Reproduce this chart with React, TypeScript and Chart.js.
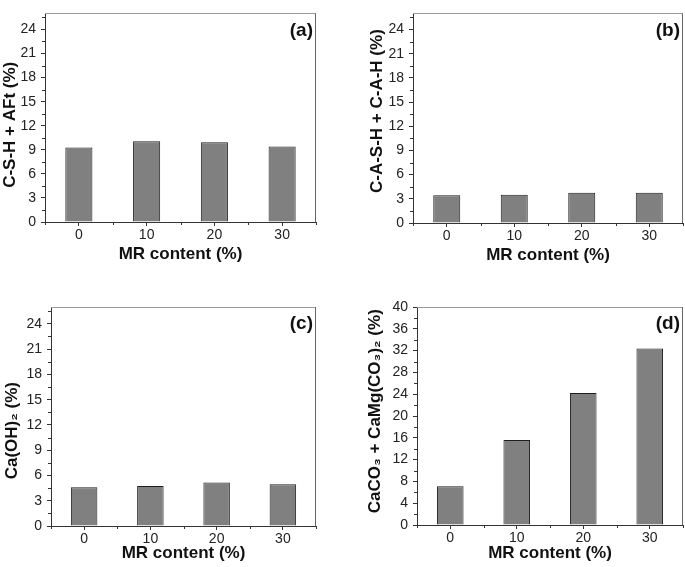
import React, { useEffect, useRef } from 'react';
import { Chart, registerables } from 'chart.js';

Chart.register(...registerables);

// ---------- data ----------
const categories = ['0', '10', '20', '30'];
const cshAft = [9.3, 10.05, 9.95, 9.4];
const cashCah = [3.45, 3.5, 3.75, 3.75];
const caOH2 = [4.6, 4.75, 5.15, 4.95];
const carbonates = [7.1, 15.6, 24.2, 32.4];

const xTitle = 'MR content (%)';
const yTitles = ['C-S-H + AFt (%)   ', '   C-A-S-H + C-A-H (%)', 'Ca(OH)\u2082 (%)      ', '  CaCO\u2083 + CaMg(CO\u2083)\u2082 (%)'];
const panelLabels = ['(a)', '(b)', '(c)', '(d)'];
const yMaxSmall = 26;
const yStepSmall = 3;
const yMaxLarge = 40;
const yStepLarge = 4;

// ---------- layout ----------
type Panel = {
  data: number[];
  yTitle: string;
  label: string;
  yMax: number;
  yStep: number;
  left: number; top: number; w: number; h: number;
  yAxisW: number; xAxisH: number; padTop: number; padRight: number;
  yTitlePad: number; xTitlePad: number;
};

const panels: Panel[] = [
  { data: cshAft, yTitle: yTitles[0], label: panelLabels[0], yMax: yMaxSmall, yStep: yStepSmall,
    left: 0, top: 0, w: 340, h: 270, yAxisW: 45, xAxisH: 48, padTop: 1, padRight: 24, yTitlePad: 0, xTitlePad: 5 },
  { data: cashCah, yTitle: yTitles[1], label: panelLabels[1], yMax: yMaxSmall, yStep: yStepSmall,
    left: 340, top: 0, w: 345, h: 270, yAxisW: 73, xAxisH: 47, padTop: 1, padRight: 2, yTitlePad: 27, xTitlePad: 4 },
  { data: caOH2, yTitle: yTitles[2], label: panelLabels[2], yMax: yMaxSmall, yStep: yStepSmall,
    left: 0, top: 280, w: 340, h: 287, yAxisW: 51, xAxisH: 41, padTop: 27, padRight: 24, yTitlePad: 2, xTitlePad: 3 },
  { data: carbonates, yTitle: yTitles[3], label: panelLabels[3], yMax: yMaxLarge, yStep: yStepLarge,
    left: 340, top: 280, w: 345, h: 287, yAxisW: 77, xAxisH: 42, padTop: 27, padRight: 2, yTitlePad: 25, xTitlePad: 3 },
];

const FONT = 'Arial, "Liberation Sans", sans-serif';

const decorPlugin = {
  id: 'decor',
  afterDraw(chart: any, _args: any, opts: any) {
    const { ctx, chartArea: a } = chart;
    ctx.save();
    ctx.lineWidth = 1;
    // top and right frame
    ctx.strokeStyle = '#9a9a9a';
    ctx.beginPath();
    ctx.moveTo(a.left, Math.round(a.top) + 0.5);
    ctx.lineTo(a.right, Math.round(a.top) + 0.5);
    ctx.stroke();
    ctx.strokeStyle = '#666';
    ctx.beginPath();
    ctx.moveTo(Math.round(a.right) - 0.5, a.top);
    ctx.lineTo(Math.round(a.right) - 0.5, a.bottom);
    ctx.stroke();
    // minor y ticks
    ctx.strokeStyle = '#333';
    const ys = chart.scales.y;
    for (let v = opts.step / 2; v <= ys.max; v += opts.step) {
      const py = Math.round(ys.getPixelForValue(v)) + 0.5;
      ctx.beginPath();
      ctx.moveTo(a.left - 3, py);
      ctx.lineTo(a.left, py);
      ctx.stroke();
    }
    // x boundary ticks
    const xs = chart.scales.x;
    const n = chart.data.labels.length;
    for (let i = 0; i <= n; i++) {
      const px = Math.round(xs.getPixelForValue(i - 0.5)) + 0.5;
      ctx.beginPath();
      ctx.moveTo(px, a.bottom);
      ctx.lineTo(px, a.bottom + 3);
      ctx.stroke();
    }
    // panel label
    ctx.fillStyle = '#111';
    ctx.font = 'bold 19px ' + FONT;
    ctx.textAlign = 'right';
    ctx.textBaseline = 'middle';
    ctx.fillText(opts.label, a.right - 3, a.top + 17);
    ctx.restore();
  },
};

function PanelChart({ p }: { p: Panel }) {
  const ref = useRef<HTMLCanvasElement>(null);
  useEffect(() => {
    const chart = new Chart(ref.current as HTMLCanvasElement, {
      type: 'bar',
      data: {
        labels: categories,
        datasets: [{
          data: p.data,
          backgroundColor: '#808080',
          borderColor: '#1e1e1e',
          borderWidth: 1,
          barPercentage: 0.4,
          categoryPercentage: 1,
        }],
      },
      options: {
        responsive: false,
        animation: false,
        events: [],
        layout: { padding: { left: 0, top: p.padTop, right: p.padRight, bottom: 0 } },
        plugins: {
          legend: { display: false },
          tooltip: { enabled: false },
          decor: { label: p.label, step: p.yStep },
        } as any,
        scales: {
          x: {
            offset: true,
            grid: { display: true, drawOnChartArea: false, offset: false, tickLength: 4, color: '#333', tickColor: '#333' },
            border: { display: true, color: '#333', width: 1 },
            ticks: { color: '#222', font: { family: FONT, size: 14 }, padding: 1, maxRotation: 0 },
            title: { display: true, text: xTitle, color: '#111', font: { family: FONT, size: 17, weight: 'bold' }, padding: { top: 0, bottom: p.xTitlePad } },
            afterFit: (s: any) => { s.height = p.xAxisH; },
          },
          y: {
            min: 0,
            max: p.yMax,
            grid: { display: true, drawOnChartArea: false, tickLength: 4, color: '#333', tickColor: '#333' },
            border: { display: true, color: '#333', width: 1 },
            ticks: { stepSize: p.yStep, includeBounds: false, color: '#222', font: { family: FONT, size: 14 }, padding: 5 },
            title: { display: true, text: p.yTitle, color: '#111', font: { family: FONT, size: 17, weight: 'bold' }, padding: { top: p.yTitlePad, bottom: 0 } },
            afterFit: (s: any) => { s.width = p.yAxisW; },
          },
        },
      } as any,
      plugins: [decorPlugin],
    });
    return () => chart.destroy();
  }, [p]);
  return (
    <div style={{ position: 'absolute', left: p.left, top: p.top, width: p.w, height: p.h }}>
      <canvas ref={ref} width={p.w} height={p.h} style={{ width: p.w, height: p.h, display: 'block' }} />
    </div>
  );
}

export default function App() {
  return (
    <div style={{ position: 'absolute', left: 0, top: 0, width: 685, height: 567, background: '#fff', overflow: 'hidden' }}>
      {panels.map((p, i) => <PanelChart key={i} p={p} />)}
    </div>
  );
}
